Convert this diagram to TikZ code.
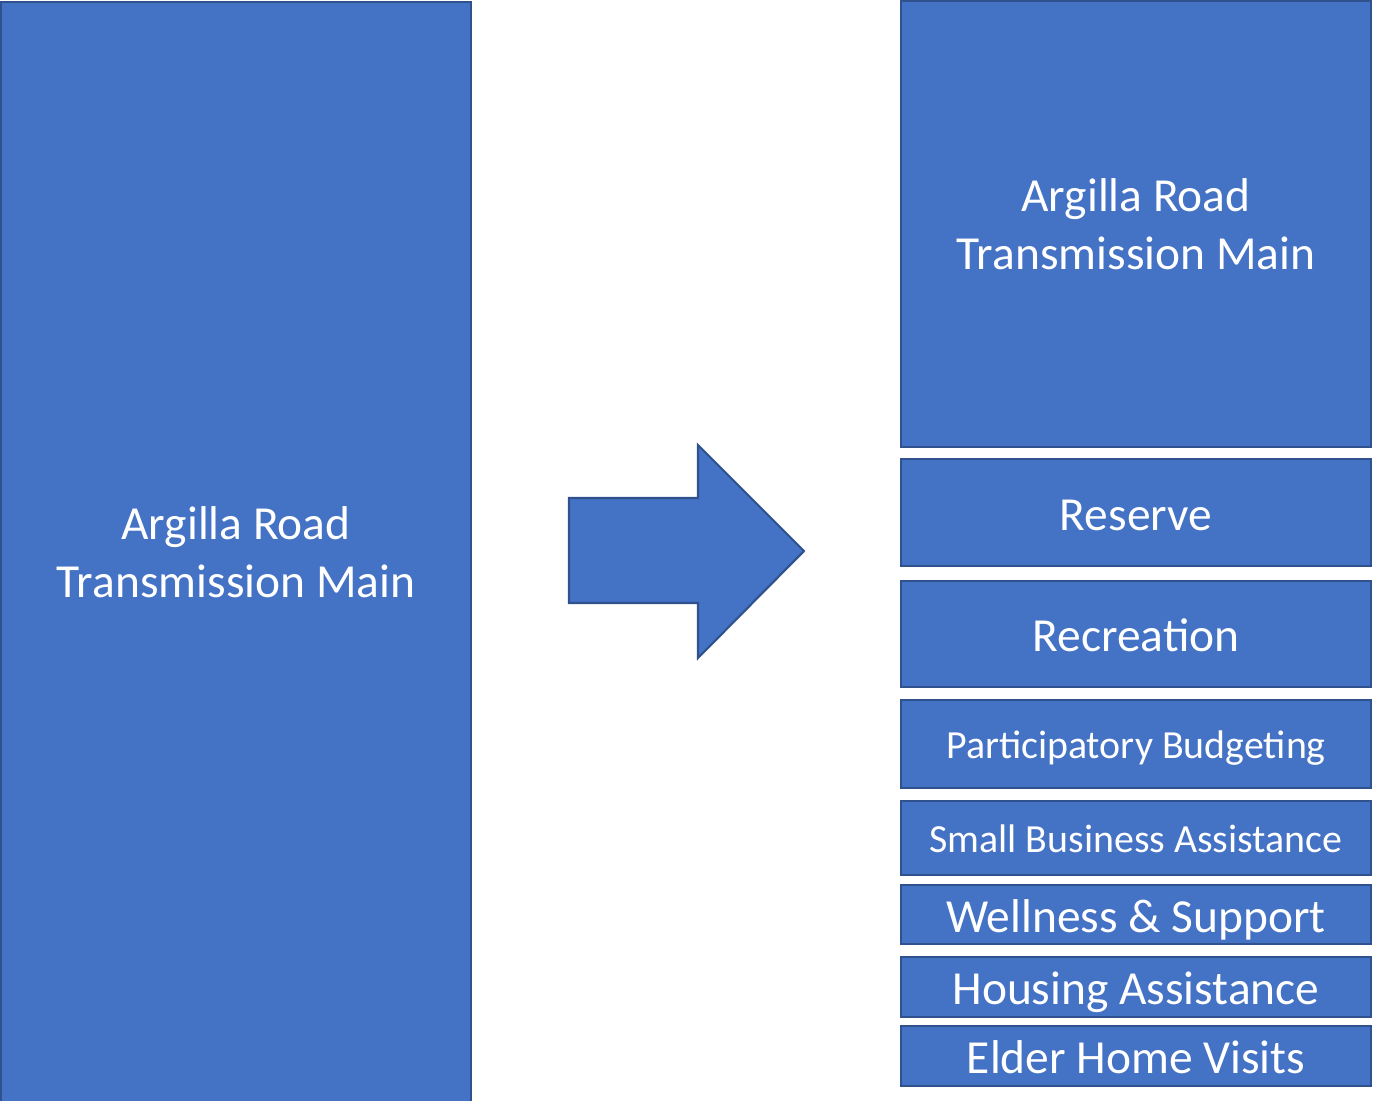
\documentclass[tikz,border=0pt]{standalone}
\usepackage{fontspec}
\setmainfont{Carlito}
\usetikzlibrary{calc}
\definecolor{bcol}{HTML}{4472C4}
\definecolor{lcol}{HTML}{2F528F}
\newcommand{\bigfont}{\fontsize{27}{33}\selectfont}
\newcommand{\smallfont}{\fontsize{22.7}{27}\selectfont}
% box on the right: name, top, bottom, text, style
\newcommand{\fund}[5]{\node[bstyle, #5, minimum width=9.4cm, minimum height={(#3-#2)*0.02cm}] (#1) at (1136,{(#2+#3)/2}) {#4};}

\begin{document}
\begin{tikzpicture}[x=0.02cm, y=-0.02cm]
\tikzstyle{bstyle}=[draw=lcol, line width=1.2pt, fill=bcol, text=white, align=center, inner sep=0pt]
\tikzstyle{twoline}=[font=\bigfont]
\tikzstyle{bigline}=[font=\bigfont, text height=27pt, text depth=7pt]
\tikzstyle{smallline}=[font=\smallfont, text height=22.7pt, text depth=6pt]

\useasboundingbox (0,0) rectangle (1373,1101);

% source
\node[bstyle, twoline, minimum width=9.4cm, minimum height=22cm] (src) at (236,552) {Argilla Road\\Transmission Main};

% arrow
\coordinate (tail) at (569,551);
\coordinate (tip) at (804,551);
\draw[draw=lcol, line width=1.2pt, fill=bcol] (tail) ++(0,-53) -- ++(129,0) -- ++(0,-53) -- (tip) -- ++(-106,107) -- ++(0,-55) -- ++(-129,0) -- cycle;

% split
\fund{main}{1}{447}{Argilla Road\\Transmission Main}{twoline}
\fund{res}{459}{566}{Reserve}{bigline}
\fund{rec}{581}{687}{Recreation}{bigline}
\fund{pb}{700}{788}{Participatory Budgeting}{smallline}
\fund{sba}{801}{875}{Small Business Assistance}{smallline}
\fund{well}{885}{944}{Wellness \& Support}{bigline}
\fund{house}{957}{1017}{Housing Assistance}{bigline}
\fund{elder}{1026}{1086}{Elder Home Visits}{bigline}
\end{tikzpicture}
\end{document}
